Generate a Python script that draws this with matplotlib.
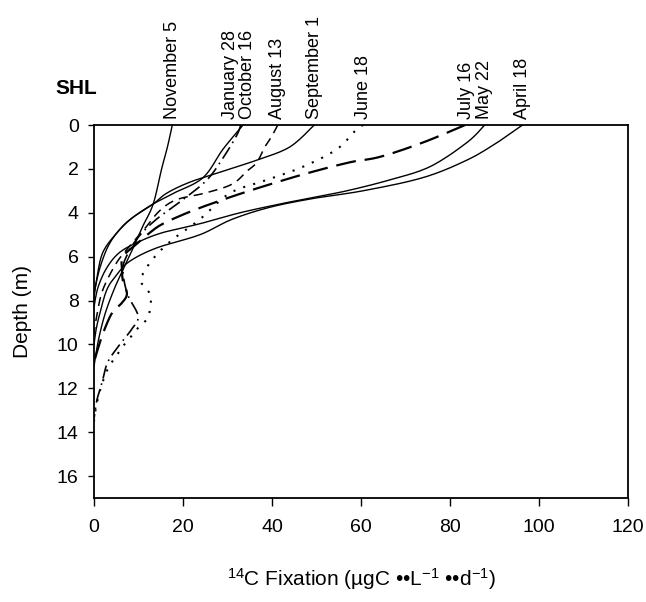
import matplotlib
matplotlib.use("Agg")
import matplotlib.pyplot as plt
import numpy as np

plt.rcParams['font.family'] = ['Liberation Sans', 'DejaVu Sans']
plt.rcParams['mathtext.fontset'] = 'custom'
plt.rcParams['mathtext.rm'] = 'Liberation Sans'
plt.rcParams['mathtext.it'] = 'Liberation Sans:italic'
plt.rcParams['mathtext.bf'] = 'Liberation Sans:bold'

# ---- data (value in ugC/L/d, depth in m) ----
nov5_x = [17.6, 16.5, 15.2, 13.3, 11.0, 8.8, 6.5, 4.5, 2.5, 1.0, 0.0]
nov5_d = [0.0, 1.0, 2.0, 3.6, 4.6, 5.6, 6.6, 7.5, 8.6, 9.8, 11.0]

jan28_x = [33.5, 29.0, 24.5, 18.0, 13.3, 9.5, 6.5, 3.5, 1.5, 0.3, 0.0]
jan28_d = [0.0, 1.1, 2.4, 3.1, 3.6, 4.1, 4.6, 5.4, 6.4, 7.4, 8.0]

oct16_x = [33.0, 32.0, 29.0, 25.4, 20.0, 14.0, 10.0, 7.5, 6.5, 7.5, 9.9, 8.5, 5.8, 3.1, 2.0, 0.7, 0.0]
oct16_d = [0.0, 0.5, 1.5, 2.5, 3.4, 4.3, 5.1, 5.9, 6.6, 7.7, 8.7, 9.3, 10.0, 10.8, 11.6, 12.5, 13.4]

aug13_x = [41.3, 40.0, 38.4, 36.6, 34.4, 31.0, 25.0, 18.6, 14.8, 11.5, 8.1, 5.0, 2.0, 0.7, 0.0]
aug13_d = [0.0, 0.5, 1.0, 1.7, 2.1, 2.7, 3.1, 3.4, 3.9, 4.7, 5.5, 6.3, 7.5, 8.6, 9.5]

sep1_x = [49.5, 44.0, 36.6, 29.0, 21.6, 16.4, 13.3, 8.8, 5.2, 2.0, 0.7, 0.0]
sep1_d = [0.0, 1.0, 1.6, 2.1, 2.6, 3.1, 3.6, 4.2, 4.9, 5.8, 6.9, 7.8]

jun18_x = [60.5, 59.0, 54.6, 47.0, 38.9, 30.6, 23.8, 17.8, 14.1, 11.5, 10.5, 11.5, 12.6, 12.8,
           12.4, 11.7, 10.1, 8.5, 7.2, 5.8, 4.7, 2.9, 1.5, 0.5, 0.0]
jun18_d = [0.0, 0.2, 1.1, 1.9, 2.5, 3.1, 4.3, 5.2, 5.9, 6.6, 7.1, 7.4, 7.7, 8.0,
           8.6, 8.9, 9.2, 9.6, 9.9, 10.3, 10.6, 11.2, 12.0, 12.8, 13.5]

jul16_x = [83.4, 73.9, 64.3, 57.5, 47.9, 38.0, 29.0, 21.6, 15.5, 12.6, 9.7, 6.5, 6.3, 6.5, 7.4,
           6.3, 4.3, 3.0, 1.5, 0.0]
jul16_d = [0.0, 0.8, 1.45, 1.7, 2.2, 2.8, 3.4, 3.95, 4.5, 4.9, 5.4, 6.0, 6.6, 7.1, 7.7,
           8.1, 8.5, 9.0, 9.8, 10.8]

may22_x = [87.8, 83.8, 75.5, 66.5, 56.8, 49.2, 41.8, 32.8, 23.8, 15.5, 10.3, 5.8, 2.9, 0.9, 0.0]
may22_d = [0.0, 0.8, 1.9, 2.5, 3.0, 3.3, 3.6, 4.0, 4.5, 4.9, 5.3, 5.8, 6.5, 7.4, 8.3]

apr18_x = [96.3, 90.6, 83.8, 73.9, 60.4, 49.2, 39.5, 31.0, 23.8, 14.1, 8.1, 5.2, 2.9, 1.3, 0.5, 0.0]
apr18_d = [0.0, 0.8, 1.6, 2.4, 3.0, 3.35, 3.75, 4.3, 5.0, 5.6, 6.2, 6.8, 7.5, 8.6, 9.3, 10.0]

series_names = ["November 5", "January 28", "October 16", "August 13", "September 1",
                "June 18", "July 16", "May 22", "April 18"]

x_ticks = [0, 20, 40, 60, 80, 100, 120]
y_ticks = [0, 2, 4, 6, 8, 10, 12, 14, 16]

# ---- styles ----
styles = {
    "November 5": dict(ls='-', lw=1.0),
    "January 28": dict(ls='-', lw=1.0),
    "October 16": dict(ls=(0, (8, 3, 1, 3)), lw=1.2),
    "August 13": dict(ls=(0, (6, 4)), lw=1.1),
    "September 1": dict(ls='-', lw=1.0),
    "June 18": dict(ls=(0, (1, 4)), lw=1.5),
    "July 16": dict(ls=(0, (9, 4)), lw=1.6),
    "May 22": dict(ls='-', lw=1.0),
    "April 18": dict(ls='-', lw=1.0),
}
label_offsets = {"January 28": -9, "October 16": 5, "July 16": 1}

data = {
    "November 5": (nov5_x, nov5_d),
    "January 28": (jan28_x, jan28_d),
    "October 16": (oct16_x, oct16_d),
    "August 13": (aug13_x, aug13_d),
    "September 1": (sep1_x, sep1_d),
    "June 18": (jun18_x, jun18_d),
    "July 16": (jul16_x, jul16_d),
    "May 22": (may22_x, may22_d),
    "April 18": (apr18_x, apr18_d),
}


def smooth(xs, ys, n=12):
    """Catmull-Rom smoothing through the data points (like spreadsheet smoothed lines)."""
    p = np.column_stack([xs, ys]).astype(float)
    p = np.vstack([p[0], p, p[-1]])
    out = []
    t = np.linspace(0, 1, n, endpoint=False)[:, None]
    for i in range(1, len(p) - 2):
        p0, p1, p2, p3 = p[i - 1], p[i], p[i + 1], p[i + 2]
        seg = 0.5 * ((2 * p1) + (-p0 + p2) * t + (2 * p0 - 5 * p1 + 4 * p2 - p3) * t ** 2
                     + (-p0 + 3 * p1 - 3 * p2 + p3) * t ** 3)
        out.append(seg)
    out.append(p[-2][None, :])
    out = np.vstack(out)
    return out[:, 0], out[:, 1]


fig = plt.figure(figsize=(6.46, 6.02), dpi=100)
ax = fig.add_axes([94/646, 1-498/602, (628-94)/646, (498-125)/602])

for name in series_names:
    xs, ds = data[name]
    sx, sd = smooth(xs, ds)
    ax.plot(sx, sd, color='black', **styles[name])
    ax.annotate(name, xy=(xs[0], 1.0), xycoords=('data', 'axes fraction'),
                xytext=(label_offsets.get(name, 0), 4), textcoords='offset points',
                rotation=90, ha='center', va='bottom', fontsize=13)

ax.set_xlim(0, 120)
ax.set_ylim(17, 0)
ax.set_xticks(x_ticks)
ax.set_yticks(y_ticks)
ax.tick_params(axis='x', direction='out', length=6, width=1, pad=9, labelsize=14)
ax.tick_params(axis='y', direction='out', length=4, width=1, pad=7, labelsize=14)
for sp in ax.spines.values():
    sp.set_linewidth(1.3)

ax.set_xlabel("$^{14}$C Fixation (µgC ••L$^{-1}$ ••d$^{-1}$)", fontsize=15, labelpad=22)
ax.set_ylabel("Depth (m)", fontsize=15, labelpad=18)

fig.text(55/646, 1-88/602, "SHL", fontsize=15, fontweight='bold', ha='left', va='center')

fig.savefig("out.png", dpi=100)
